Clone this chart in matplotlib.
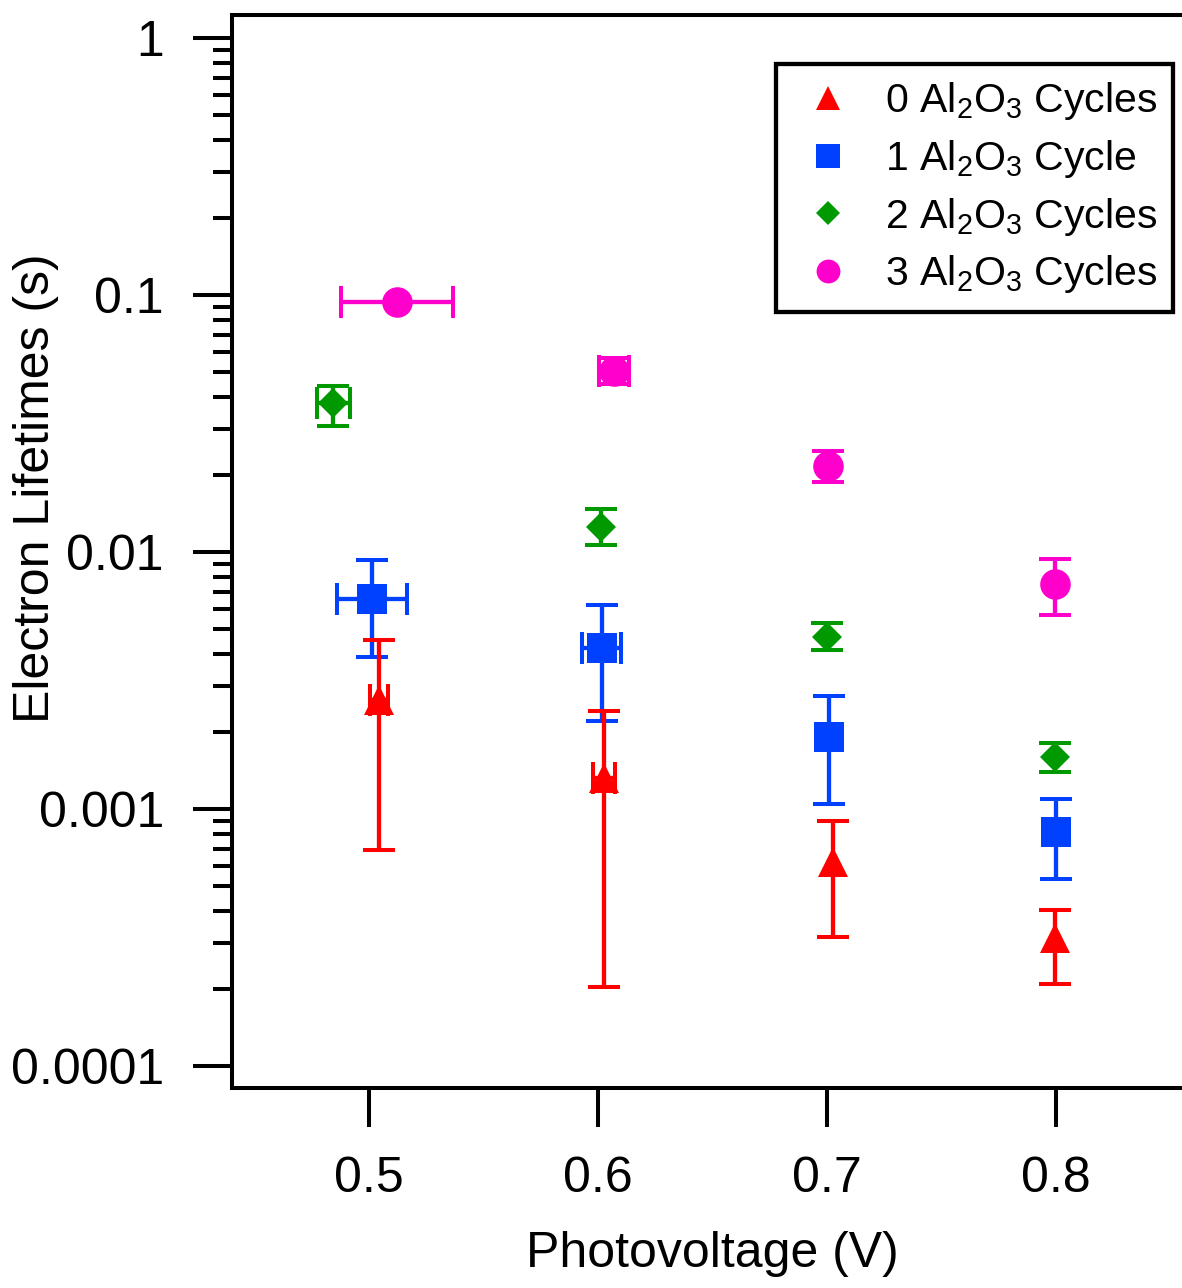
import numpy as np
import matplotlib
matplotlib.use("Agg")
import matplotlib.pyplot as plt
from matplotlib.ticker import FixedLocator, FuncFormatter, NullLocator

plt.rcParams["font.family"] = ["Liberation Sans", "DejaVu Sans"]

# electron lifetimes vs photovoltage for each number of Al2O3 ALD cycles
# (y_lo / y_hi are the ends of the vertical error bars, nan = none drawn)
x0 = [0.5043, 0.6026, 0.7027, 0.7997]
y0 = [0.00265, 0.00132, 0.00062, 0.000315]
y0_lo = [0.00069, 0.000203, 0.000318, 0.000209]
y0_hi = [0.00455, 0.0024, 0.0009, 0.000405]
x0_err = [0.0040, 0.0047, np.nan, np.nan]

x1 = [0.5012, 0.6015, 0.7010, 0.8000]
y1 = [0.00656, 0.00423, 0.0019, 0.000814]
y1_lo = [0.0039, 0.0022, 0.00105, 0.000534]
y1_hi = [0.0093, 0.00622, 0.00275, 0.00109]
x1_err = [0.0152, 0.0085, np.nan, np.nan]

x2 = [0.4843, 0.6011, 0.6999, 0.7998]
y2 = [0.038, 0.0125, 0.00467, 0.00159]
y2_lo = [0.0309, 0.01065, 0.00416, 0.00139]
y2_hi = [0.0443, 0.0147, 0.0053, 0.00181]
x2_err = [0.0073, np.nan, np.nan, np.nan]

x3 = [0.5122, 0.6071, 0.7006, 0.7997]
y3 = [0.094, 0.0506, 0.0216, 0.0075]
y3_lo = [np.nan, 0.0451, 0.0187, 0.00569]
y3_hi = [np.nan, 0.0569, 0.0247, 0.0094]
x3_err = [0.0245, 0.0065, np.nan, np.nan]

labels = [r"0 Al$\mathregular{_2}$O$\mathregular{_3}$ Cycles",
          r"1 Al$\mathregular{_2}$O$\mathregular{_3}$ Cycle",
          r"2 Al$\mathregular{_2}$O$\mathregular{_3}$ Cycles",
          r"3 Al$\mathregular{_2}$O$\mathregular{_3}$ Cycles"]

series = [
    (x0, y0, y0_lo, y0_hi, x0_err, "#FF0000", "^", 22),
    (x1, y1, y1_lo, y1_hi, x1_err, "#0040FF", "s", 22),
    (x2, y2, y2_lo, y2_hi, x2_err, "#009900", "D", 15.3),
    (x3, y3, y3_lo, y3_hi, x3_err, "#FF00CC", "o", 22),
]

fig = plt.figure(figsize=(11.82, 12.88), dpi=100)
ax = fig.add_axes([232 / 1182, 1 - 1088 / 1288, 961 / 1182, 1073 / 1288])

handles = [None] * 4
for i in reversed(range(4)):
    x, y, lo, hi, xe, col, mk, ms = series[i]
    y = np.array(y)
    yerr = np.vstack([y - np.array(lo), np.array(hi) - y])
    c = ax.errorbar(x, y, yerr=yerr, xerr=xe, fmt=mk, color=col, ms=ms,
                    elinewidth=3.1, capsize=11.2, capthick=2.9,
                    label=labels[i])
    # markers are plain filled shapes, no outline
    c[0].set_markeredgewidth(0)
    handles[i] = c[0]

ax.set_yscale("log")
ax.set_xlim(0.44, 0.86)
ax.set_ylim(8.21e-5, 1.229)

ax.xaxis.set_major_locator(FixedLocator([0.5, 0.6, 0.7, 0.8]))
ax.xaxis.set_minor_locator(NullLocator())
ax.yaxis.set_major_locator(FixedLocator([1e-4, 1e-3, 1e-2, 1e-1, 1]))
ax.yaxis.set_major_formatter(FuncFormatter(lambda v, p: "%g" % v))
minor = [k * 10.0 ** e for e in range(-4, 0) for k in range(2, 10)]
ax.yaxis.set_minor_locator(FixedLocator(minor))

ax.spines["right"].set_visible(False)
for s in ("left", "top", "bottom"):
    ax.spines[s].set_linewidth(2.9)

ax.tick_params(which="both", direction="out", width=2.9, top=False, right=False)
ax.tick_params(which="major", length=28, labelsize=36)
ax.tick_params(axis="y", which="major", pad=21)
ax.tick_params(axis="x", which="major", pad=21)
ax.tick_params(which="minor", length=14)

ax.set_xlabel("Photovoltage (V)", fontsize=36, va="baseline")
ax.xaxis.set_label_coords(0.5, -0.1665)
ax.set_ylabel("Electron Lifetimes (s)", fontsize=36, va="center")
ax.yaxis.set_label_coords(-0.204, 0.5587)

leg = ax.legend(handles=handles, labels=labels, loc="upper right",
                bbox_to_anchor=(1173.3 / 1182, 1 - 63.7 / 1288),
                bbox_transform=fig.transFigure, borderaxespad=0,
                fontsize=29.5, numpoints=1, markerscale=0.78,
                handlelength=1.74, handletextpad=0.52, borderpad=0.4,
                labelspacing=0.385, frameon=True, fancybox=False)
leg.get_frame().set_edgecolor("black")
leg.get_frame().set_linewidth(3.1)
leg.get_frame().set_alpha(1)

fig.savefig("out.png", dpi=100)
